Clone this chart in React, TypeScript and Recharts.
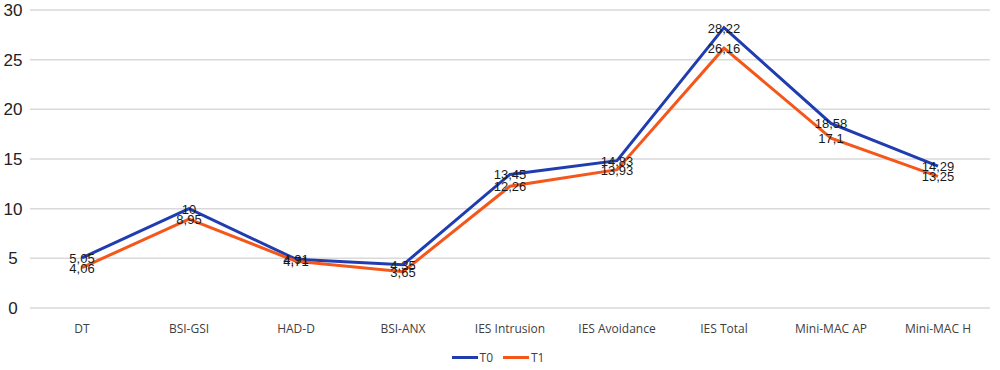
import { LineChart, Line, XAxis, YAxis, CartesianGrid, Legend } from 'recharts';

const categories = ['DT', 'BSI-GSI', 'HAD-D', 'BSI-ANX', 'IES Intrusion', 'IES Avoidance', 'IES Total', 'Mini-MAC AP', 'Mini-MAC H'];
const t0 = [5.05, 10, 4.91, 4.35, 13.45, 14.83, 28.22, 18.58, 14.29];
const t1 = [4.06, 8.95, 4.71, 3.65, 12.26, 13.93, 26.16, 17.1, 13.25];
const yTicks = [0, 5, 10, 15, 20, 25, 30];

const data = categories.map((name, i) => ({ name, T0: t0[i], T1: t1[i] }));

const BLUE = '#1f3db0';
const ORANGE = '#f5561a';

const fmt = (v: number) => String(v).replace('.', ',');

function YTick({ y, payload }: any) {
  return (
    <text x={13} y={y} dy={6} textAnchor="middle" fontSize={17} fill="#222" fontFamily="Liberation Sans, Arial, sans-serif">
      {payload.value}
    </text>
  );
}

function PointLabel({ x, y, value }: any) {
  return (
    <text x={x} y={y} dy={5} textAnchor="middle" fontSize={13} fill="#1a1a1a" fontFamily="Liberation Sans, Arial, sans-serif">
      {fmt(value)}
    </text>
  );
}

function LegendBox() {
  const items = [
    { name: 'T0', color: BLUE },
    { name: 'T1', color: ORANGE },
  ];
  return (
    <div style={{ height: 32, boxSizing: 'border-box', display: 'flex', justifyContent: 'center', alignItems: 'center', gap: 10, paddingLeft: 6, paddingTop: 6 }}>
      {items.map((it) => (
        <div key={it.name} style={{ display: 'flex', alignItems: 'center' }}>
          <span style={{ display: 'inline-block', width: 26, height: 3, background: it.color, marginRight: 2 }} />
          <span style={{ fontSize: 12, color: '#404040', fontFamily: 'Open Sans, sans-serif' }}>{it.name}</span>
        </div>
      ))}
    </div>
  );
}

export default function App() {
  return (
    <div style={{ position: 'absolute', left: 0, top: 0, background: '#fff' }}>
      <LineChart width={1000} height={370} data={data} margin={{ top: 10, right: 10, bottom: 0, left: 0 }}>
        <CartesianGrid vertical={false} stroke="#d9d9d9" strokeWidth={1.5} />
        <XAxis
          dataKey="name"
          axisLine={false}
          tickLine={false}
          height={30}
          padding={{ left: 52, right: 52 }}
          interval={0}
          tick={{ fontSize: 12, fill: '#404040', fontFamily: 'Open Sans, sans-serif' }}
          tickMargin={10}
        />
        <YAxis
          width={30}
          domain={[0, 30]}
          ticks={yTicks}
          axisLine={false}
          tickLine={false}
          tick={<YTick />}
        />
        <Legend verticalAlign="bottom" content={<LegendBox />} />
        <Line type="linear" dataKey="T0" stroke={BLUE} strokeWidth={3} dot={false} isAnimationActive={false} label={<PointLabel />} />
        <Line type="linear" dataKey="T1" stroke={ORANGE} strokeWidth={3} dot={false} isAnimationActive={false} label={<PointLabel />} />
      </LineChart>
    </div>
  );
}
